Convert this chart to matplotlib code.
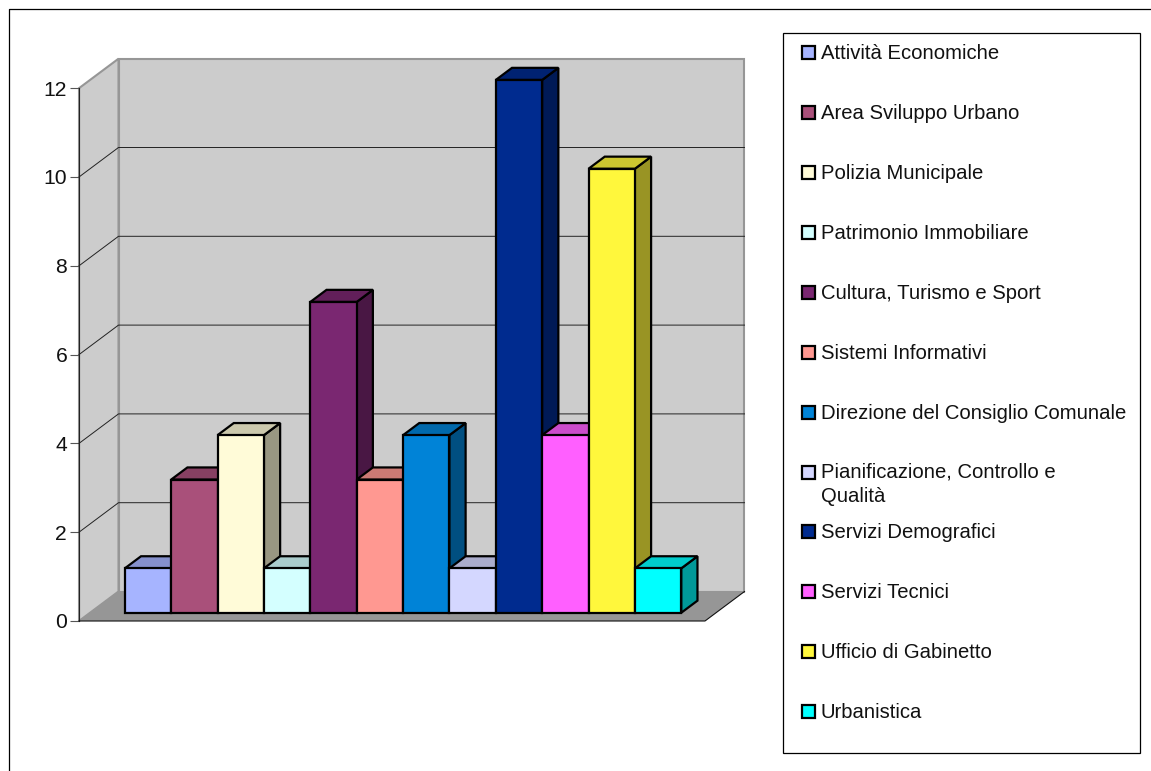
import matplotlib
matplotlib.use("Agg")
import matplotlib.pyplot as plt
from matplotlib.patches import Polygon, Rectangle

plt.rcParams['font.family'] = ['Liberation Sans', 'DejaVu Sans']

# data
categories = ["Attività Economiche", "Area Sviluppo Urbano", "Polizia Municipale",
              "Patrimonio Immobiliare", "Cultura, Turismo e Sport", "Sistemi Informativi",
              "Direzione del Consiglio Comunale", "Pianificazione, Controllo e\nQualità",
              "Servizi Demografici", "Servizi Tecnici", "Ufficio di Gabinetto", "Urbanistica"]
values = [1, 3, 4, 1, 7, 3, 4, 1, 12, 4, 10, 1]
colors = ["#A6B4FF", "#A9507A", "#FFFBD8", "#D4FFFF", "#7A2771", "#FF9891",
          "#0083D7", "#D4D7FF", "#002B8F", "#FF5FFF", "#FFF73C", "#00FFFF"]
y_ticks = [0, 2, 4, 6, 8, 10, 12]

W, H = 1151, 771
PX_X = 46.37   # pixels per bar
PX_Y = 44.4    # pixels per unit
DEPTH_X = 39.5 / PX_X
DEPTH_Y = 29.5 / PX_Y
X_MIN, X_MAX = -0.75, 12.75
TOP = 12.0
FONT = 14.55


def shade(col, f):
    r, g, b = matplotlib.colors.to_rgb(col)
    return (r * f, g * f, b * f)


def pt(x, v, d=0.0):
    # d is the depth into the chart box, 0 front, 1 back wall
    return (x + d * DEPTH_X, v + d * DEPTH_Y)


fig = plt.figure(figsize=(W / 100, H / 100), dpi=100, facecolor="white")

# overlay in pixel coordinates for the frame and the legend box
page = fig.add_axes([0, 0, 1, 1])
page.set_xlim(0, W)
page.set_ylim(H, 0)
page.axis("off")
page.plot([9.5, 9.5, W], [H, 9, 9], color="black", lw=0.9)
page.add_patch(Rectangle((783.5, 33), 357, 720, fc="white", ec="black", lw=0.9))

legend_y = [52, 112, 172, 232, 292, 352, 412, 472, 531, 591, 651, 711]
text_y = [44, 104, 164, 224, 284, 344, 404, 462, 523, 583, 643, 703]
for cat, col, ly, ty in zip(categories, colors, legend_y, text_y):
    page.add_patch(Rectangle((802.5, ly - 6), 12.5, 12.5, fc=col, ec="black", lw=1.6))
    page.text(821, ty, cat, fontsize=FONT, va="top", ha="left",
              color="#111111", linespacing=1.38)

# chart axes: left spine is the front left corner of the box
left = 79
right = 745
y0 = 621
y_top = 59
ax = fig.add_axes([left / W, (H - y0) / H, (right - left) / W, (y0 - y_top) / H])
ax.patch.set_visible(False)
ax.set_xlim(X_MIN, X_MIN + (right - left) / PX_X)
ax.set_ylim(0, (y0 - y_top) / PX_Y)
for s in ["top", "right", "bottom"]:
    ax.spines[s].set_visible(False)
ax.spines["left"].set_bounds(0, TOP)
ax.spines["left"].set_linewidth(0.8)
ax.spines["left"].set_color("#222222")
ax.set_xticks([])
ax.set_yticks(y_ticks)
ax.tick_params(axis="y", length=6.5, width=0.8, color="#555555", pad=2,
               labelsize=15.2, labelcolor="#111111")

WALL = "#CCCCCC"
FLOOR = "#969696"
EDGE = "#969696"

# back wall, side wall, floor
ax.add_patch(Polygon([pt(X_MIN, 0, 1), pt(X_MAX, 0, 1), pt(X_MAX, TOP, 1), pt(X_MIN, TOP, 1)],
                     fc=WALL, ec=EDGE, lw=1.5, clip_on=False, zorder=1))
ax.add_patch(Polygon([pt(X_MIN, 0, 0), pt(X_MIN, 0, 1), pt(X_MIN, TOP, 1), pt(X_MIN, TOP, 0)],
                     fc=WALL, ec=EDGE, lw=1.5, clip_on=False, zorder=1))
ax.add_patch(Polygon([pt(X_MIN, 0, 0), pt(X_MIN, 0, 1), pt(X_MAX, 0, 1), pt(X_MAX, 0, 0)],
                     fc=FLOOR, ec="none", clip_on=False, zorder=2))

# grid lines on both walls
for t in y_ticks[1:-1]:
    xs, ys = zip(pt(X_MIN, t, 0), pt(X_MIN, t, 1), pt(X_MAX, t, 1))
    ax.plot(xs, ys, color="#222222", lw=0.7, clip_on=False, zorder=3)

# front and right edge of the floor
xs, ys = zip(pt(X_MIN, 0, 0), pt(X_MAX, 0, 0), pt(X_MAX, 0, 1))
ax.plot(xs, ys, color="#111111", lw=0.8, clip_on=False, zorder=3)

# bars, drawn left to right so each one covers the side of the previous one
D0, D1 = 0.28, 0.69
for i, (v, col) in enumerate(zip(values, colors)):
    a, b = i, i + 1
    style = dict(ec="black", lw=1.6, joinstyle="miter", clip_on=False, zorder=10 + i)
    ax.add_patch(Polygon([pt(b, 0, D0), pt(b, 0, D1), pt(b, v, D1), pt(b, v, D0)],
                         fc=shade(col, 0.6), **style))
    ax.add_patch(Polygon([pt(a, v, D0), pt(b, v, D0), pt(b, v, D1), pt(a, v, D1)],
                         fc=shade(col, 0.8), **style))
    ax.add_patch(Polygon([pt(a, 0, D0), pt(b, 0, D0), pt(b, v, D0), pt(a, v, D0)],
                         fc=col, **style))

fig.savefig("out.png", dpi=100)
